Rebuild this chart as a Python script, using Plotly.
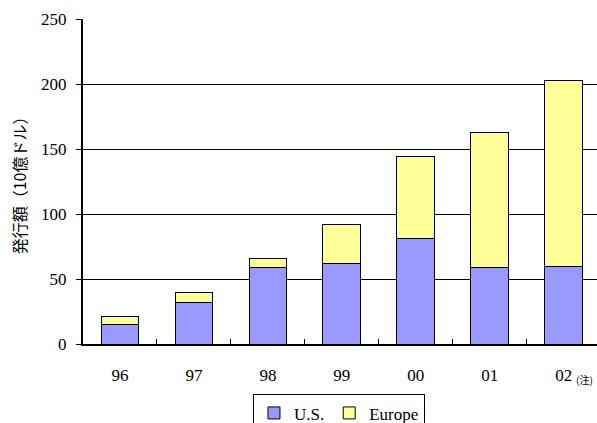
import plotly.graph_objects as go

years = ["96", "97", "98", "99", "00", "01", "02"]
us = [15, 32, 58.5, 62, 81.5, 58.5, 60]
europe = [6, 8, 7, 30, 63, 104.5, 143]
y_ticks = [0, 50, 100, 150, 200, 250]

serif = "Liberation Serif"

fig = go.Figure()
fig.add_trace(go.Bar(
    x=years, y=us, name="U.S.",
    marker=dict(color="#9999FF", line=dict(color="black", width=1)),
))
fig.add_trace(go.Bar(
    x=years, y=europe, name="Europe",
    marker=dict(color="#FFFF99", line=dict(color="black", width=1)),
))

fig.update_layout(
    template="none",
    width=597, height=423,
    margin=dict(l=83, r=0, t=19, b=79, autoexpand=False),
    barmode="stack",
    bargap=0.49,
    plot_bgcolor="white",
    paper_bgcolor="white",
    font=dict(family=serif, size=15, color="black"),
    showlegend=True,
    legend=dict(
        orientation="h",
        traceorder="normal",
        x=0.498, xanchor="center",
        y=-0.155, yanchor="top",
        bgcolor="white",
        bordercolor="black", borderwidth=1,
        font=dict(family=serif, size=17, color="black"),
        itemwidth=30,
    ),
    xaxis=dict(
        type="category",
        range=[-0.5, 6.45],
        automargin=False,
        showline=True, linecolor="black", linewidth=2,
        ticks="inside", tickson="boundaries", ticklen=5, tickcolor="black", tickwidth=1,
        ticklabelstandoff=15,
        showgrid=False, zeroline=False,
        tickfont=dict(family=serif, size=17, color="black"),
    ),
    yaxis=dict(
        range=[0, 250],
        automargin=False,
        tickvals=y_ticks,
        showline=True, linecolor="black", linewidth=2,
        ticks="outside", ticklen=5, tickcolor="black", tickwidth=1,
        ticklabelstandoff=6,
        showgrid=True, gridcolor="black", gridwidth=1,
        zeroline=False,
        tickfont=dict(family=serif, size=17, color="black"),
        title=dict(
            text="発行額（10億ドル）",
            font=dict(family="Noto Sans CJK JP", size=16, color="black"),
            standoff=10,
        ),
    ),
)

fig.add_annotation(
    x=6, y=0, xref="x", yref="y",
    text="(注)", showarrow=False,
    font=dict(family="Noto Sans CJK JP", size=10, color="black"),
    xshift=21, yshift=-35,
)

fig.write_html("out.html")
